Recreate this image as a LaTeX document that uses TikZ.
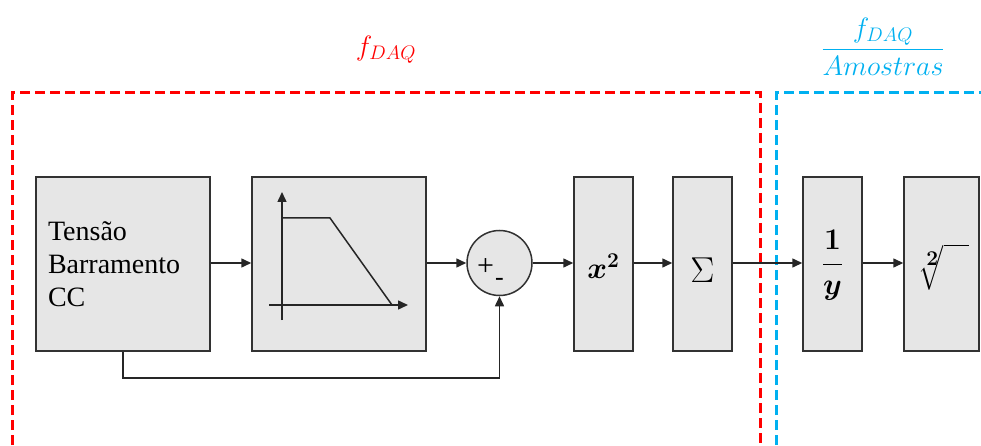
\RequirePackage{fix-cm}
\documentclass[tikz,border=0pt]{standalone}
\usepackage{amsmath,bm}
\usepackage{fontspec}
\setmainfont{Liberation Serif}
\usetikzlibrary{arrows.meta}
\definecolor{boxgray}{RGB}{230,230,230}
\definecolor{edgegray}{RGB}{50,50,50}
\definecolor{dred}{RGB}{255,0,0}
\definecolor{dblue}{RGB}{0,176,240}
\newcommand{\myroot}{\ensuremath{\boldsymbol{\sqrt[\scriptstyle 2]{\mathstrut\hspace{0.85em}}}}}
\begin{document}
\begin{tikzpicture}[x=1pt,y=-1pt,
  blk/.style={draw=edgegray,fill=boxgray,line width=1.5pt,inner sep=0pt,minimum height=174pt},
  conn/.style={line width=1.5pt,draw=black!85,-{Triangle[length=10pt,width=9pt]}},
  plain/.style={line width=1.5pt,draw=black!85},
  region/.style={line width=3pt,dash pattern=on 10pt off 5pt},
  every node/.style={font=\fontsize{28}{33}\selectfont}]
\useasboundingbox (0,0) rectangle (981,446);
\begin{scope}
\clip (0,0) rectangle (981,446);
\draw[region,dred] (12,460) -- (12,93) -- (760,93) -- (760,460);
\draw[region,dblue] (776,460) -- (776,93) -- (990,93);
\end{scope}
\node[red] (lblred) at (386,50) {$f_{DAQ}$};
\node[dblue] (lblblue) at (883,47) {$\dfrac{f_{DAQ}}{Amostras}$};
% blocks
\node[blk,minimum width=174pt,text width=150pt,align=left] (src) at (123,264) {Tensão\\Barramento\\CC};
\node[blk,minimum width=174pt] (filt) at (339,264) {};
\node[circle,draw=edgegray,fill=boxgray,line width=1.5pt,minimum size=65pt,inner sep=0pt] (sum) at (499.5,263) {};
\node (plus) at (485.5,267) {\fontsize{30}{30}\selectfont +};
\node (minus) at (499.5,282) {\fontsize{26}{26}\selectfont -};
\node[blk,minimum width=59pt] (sq) at (603.5,264) {};
\node (sqt) at (603.5,266) {\fontsize{30}{30}\selectfont$\bm{x^2}$};
\node[blk,minimum width=59pt] (acc) at (702.5,264) {};
\node (sig) at (702.5,270) {\fontsize{36}{36}\selectfont$\Sigma$};
\node[blk,minimum width=59pt] (inv) at (832.5,264) {};
\node (invt) at (832.5,265) {\fontsize{30}{30}\selectfont$\boldsymbol{\dfrac{1}{y}}$};
\node[blk,minimum width=75pt] (rt) at (941.5,264) {};
\node (rtsym) at (943,267) {\fontsize{30}{30}\selectfont\myroot};
% filter plot
\coordinate (ya) at (282,320);
\coordinate (yb) at (282,192);
\coordinate (xa) at (269,305);
\coordinate (xb) at (408,305);
\coordinate (p1) at (282,218);
\coordinate (p2) at (330,218);
\coordinate (p3) at (392,305);
\draw[conn] (ya) -- (yb);
\draw[conn] (xa) -- (xb);
\draw[plain] (p1) -- (p2) -- (p3);
% connectors
\draw[conn] (src.east |- sum.west) -- (filt.west |- sum.west);
\draw[conn] (filt.east |- sum.west) -- (sum.west);
\draw[conn] (sum.east) -- (sq.west |- sum.east);
\draw[conn] (sq.east |- sum.east) -- (acc.west |- sum.east);
\draw[conn] (acc.east |- sum.east) -- (inv.west |- sum.east);
\draw[conn] (inv.east |- sum.east) -- (rt.west |- sum.east);
\coordinate (fb) at (src.south |- 0,378);
\draw[conn] (src.south) -- (fb) -| (sum.south);
\end{tikzpicture}
\end{document}
